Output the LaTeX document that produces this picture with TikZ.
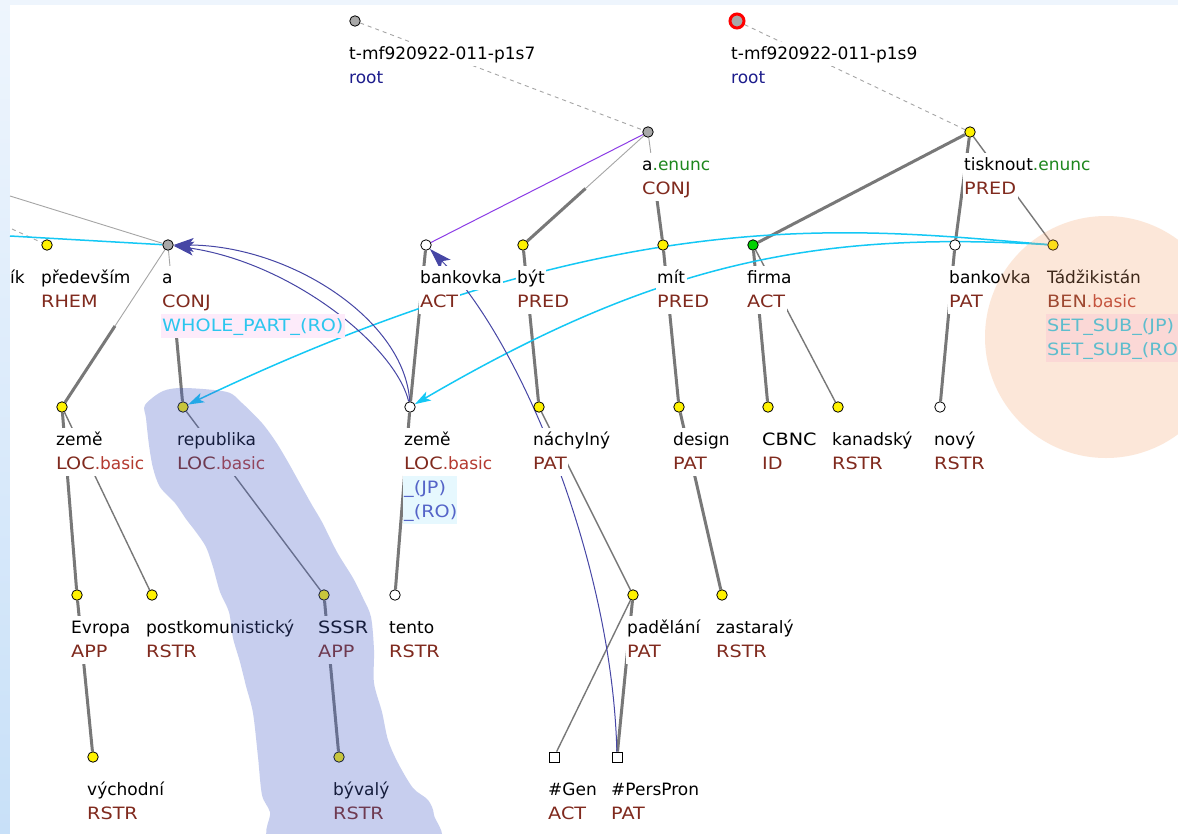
\documentclass[tikz,border=0pt]{standalone}
\usepackage{fontspec}
\setmainfont{DejaVu Sans}
\newfontfamily\capf[FakeStretch=1.13]{DejaVu Sans}
\usetikzlibrary{calc,arrows.meta}
\pgfdeclarelayer{bg}
\pgfdeclarelayer{fg}
\pgfsetlayers{bg,main,fg}
\definecolor{fun}{RGB}{128,42,30}
\definecolor{basc}{RGB}{180,58,48}
\definecolor{encc}{RGB}{30,135,30}
\definecolor{rootc}{RGB}{28,28,140}
\definecolor{cyanT}{RGB}{44,198,238}
\definecolor{cyanL}{RGB}{20,200,245}
\definecolor{navyL}{RGB}{70,70,165}
\definecolor{purpL}{RGB}{140,60,230}
\definecolor{edgeG}{RGB}{120,120,120}
\definecolor{edgeT}{RGB}{165,165,165}
\definecolor{pinkbg}{RGB}{253,235,250}
\definecolor{cyanbg}{RGB}{230,248,254}
\definecolor{jpT}{RGB}{85,100,200}
\definecolor{nodeGray}{RGB}{168,168,168}
\definecolor{nodeGreen}{RGB}{0,210,0}
\definecolor{bluereg}{RGB}{70,95,200}
\definecolor{peach}{RGB}{247,163,107}
\newcommand\lblsize{\fontsize{17pt}{20pt}\selectfont}
\newcommand\fnc[1]{{\capf\color{fun}#1}}
\newcommand\basx{\textcolor{basc}{.basic}}
\newcommand\enc{\textcolor{encc}{.enunc}}
\newcommand\tlab[3]{%
  \node[lbl] (#1-a) at ([shift={(-7.5,38)}]#1.center) {#2};
  \node[lbl] (#1-b) at ([shift={(-7.5,62)}]#1.center) {#3};}
\newcommand\splitedge[2]{%
  \draw[thn] (#1) -- ($(#1)!0.5!(#2)$);
  \draw[thk] ($(#1)!0.5!(#2)$) -- (#2);}
\tikzset{
  nd/.style={circle, draw=black, line width=0.8pt, minimum size=10.5pt, inner sep=0pt},
  yel/.style={nd, fill=yellow},
  wht/.style={nd, fill=white},
  gry/.style={nd, fill=nodeGray},
  grn/.style={nd, fill=nodeGreen},
  sq/.style={rectangle, draw=black, line width=0.8pt, minimum size=10pt, inner sep=0pt, fill=white},
  lbl/.style={anchor=base west, fill=white, inner xsep=1.5pt, inner ysep=0pt,
              text height=17pt, text depth=7pt, font=\lblsize},
  thk/.style={draw=edgeG, line width=3pt},
  med/.style={draw=edgeG, line width=1.4pt},
  thn/.style={draw=edgeT, line width=0.9pt},
  rootln/.style={draw=edgeT, line width=0.9pt, dash pattern=on 4pt off 4pt},
  purp/.style={draw=purpL, line width=1pt},
  cyanarr/.style={draw=cyanL, line width=1.5pt, -{Stealth[length=16pt,width=10pt,inset=4pt]}},
  navyarr/.style={draw=navyL, line width=1pt, -{Stealth[length=20pt,width=14pt,inset=5pt]}},
}
\begin{document}
\begin{tikzpicture}[x=1pt,y=-1pt]
\useasboundingbox (0,0) rectangle (1178,833);
% ---------- nodes ----------
\node[gry] (root1) at (355,21) {};
\node[circle, draw=red, line width=3pt, fill=nodeGray, minimum size=14pt, inner sep=0pt] (root2) at (737,21) {};
\node[gry] (aenunc) at (648,132) {};
\node[yel] (tisk) at (970,132) {};
\node[yel] (prede) at (47,245) {};
\node[gry] (aconj) at (168,245) {};
\node[wht] (bank1) at (426,245) {};
\node[yel] (byt) at (523,245) {};
\node[yel] (mit) at (663,245) {};
\node[grn] (firma) at (753,245) {};
\node[wht] (bank2) at (955,245) {};
\node[yel] (tadz) at (1053,245) {};
\node[yel] (zeme1) at (62,407) {};
\node[yel] (repub) at (183,407) {};
\node[wht] (zeme2) at (410,407) {};
\node[yel] (nachyl) at (539,407) {};
\node[yel] (design) at (679,407) {};
\node[yel] (cbnc) at (768,407) {};
\node[yel] (kanad) at (838,407) {};
\node[wht] (novy) at (940,407) {};
\node[yel] (evropa) at (77,595) {};
\node[yel] (postk) at (152,595) {};
\node[yel] (sssr) at (324,595) {};
\node[wht] (tento) at (395,595) {};
\node[yel] (padel) at (633,595) {};
\node[yel] (zastar) at (722,595) {};
\node[yel] (vychod) at (93,757) {};
\node[yel] (byvaly) at (339,757) {};
\node[sq] (gen) at (554,757) {};
\node[sq] (perspr) at (617,757) {};
\coordinate (offA) at (10,196);
\coordinate (offB) at (10,236);
\coordinate (offC) at (12,229);
% ---------- labels ----------
\tlab{root1}{t-mf920922-011-p1s7}{\textcolor{rootc}{root}}
\tlab{root2}{t-mf920922-011-p1s9}{\textcolor{rootc}{root}}
\tlab{aenunc}{a\enc}{\fnc{CONJ}}
\tlab{tisk}{tisknout\enc}{\fnc{PRED}}
\node[lbl, inner xsep=0.5pt] (ikfrag) at (9.5,283) {ík};
\tlab{prede}{především}{\fnc{RHEM}}
\tlab{aconj}{a}{\fnc{CONJ}}
\node[lbl, fill=pinkbg, text=cyanT] (aconj-c) at ([shift={(-7.5,86)}]aconj.center) {\capf WHOLE\_PART\_(RO)};
\tlab{bank1}{bankovka}{\fnc{ACT}}
\tlab{byt}{být}{\fnc{PRED}}
\tlab{mit}{mít}{\fnc{PRED}}
\tlab{firma}{firma}{\fnc{ACT}}
\tlab{bank2}{bankovka}{\fnc{PAT}}
\tlab{tadz}{Tádžikistán}{\fnc{BEN}\basx}
\node[lbl, fill=pinkbg, text=cyanT, text width=150pt] (tadz-c) at ([shift={(-7.5,86)}]tadz.center) {\capf SET\_SUB\_(JP)};
\node[lbl, fill=pinkbg, text=cyanT, text width=150pt] (tadz-d) at ([shift={(-7.5,110)}]tadz.center) {\capf SET\_SUB\_(RO)};
\tlab{zeme1}{země}{\fnc{LOC}\basx}
\tlab{repub}{republika}{\fnc{LOC}\basx}
\tlab{zeme2}{země}{\fnc{LOC}\basx}
\node[lbl, fill=cyanbg, text=jpT, text width=51pt] (zeme2-c) at ([shift={(-7.5,86)}]zeme2.center) {\capf \_(JP)};
\node[lbl, fill=cyanbg, text=jpT, text width=51pt] (zeme2-d) at ([shift={(-7.5,110)}]zeme2.center) {\capf \_(RO)};
\tlab{nachyl}{náchylný}{\fnc{PAT}}
\tlab{design}{design}{\fnc{PAT}}
\tlab{cbnc}{{\capf CBNC}}{\fnc{ID}}
\tlab{kanad}{kanadský}{\fnc{RSTR}}
\tlab{novy}{nový}{\fnc{RSTR}}
\tlab{evropa}{Evropa}{\fnc{APP}}
\tlab{postk}{postkomunistický}{\fnc{RSTR}}
\tlab{sssr}{{\capf SSSR}}{\fnc{APP}}
\tlab{tento}{tento}{\fnc{RSTR}}
\tlab{padel}{padělání}{\fnc{PAT}}
\tlab{zastar}{zastaralý}{\fnc{RSTR}}
\tlab{vychod}{východní}{\fnc{RSTR}}
\tlab{byvaly}{bývalý}{\fnc{RSTR}}
\tlab{gen}{\#Gen}{\fnc{ACT}}
\tlab{perspr}{\#PersPron}{\fnc{PAT}}
% ---------- background and edges ----------
\begin{pgfonlayer}{bg}
\shade[top color={rgb,255:red,238;green,245;blue,253}, bottom color={rgb,255:red,200;green,224;blue,248}] (0,0) rectangle (1178,833);
\fill[white] (10,5) rectangle (1190,845);
\draw[rootln] (root1) -- (aenunc);
\draw[rootln] (root2) -- (tisk);
\draw[rootln] (offC) -- (prede);
\draw[thn] (offA) -- (aconj);
\draw[purp] (aenunc) -- (bank1);
\splitedge{aenunc}{byt}
\splitedge{aenunc}{mit}
\draw[thk] (tisk) -- (firma);
\draw[thk] (tisk) -- (bank2);
\draw[med] (tisk) -- (tadz);
\splitedge{aconj}{zeme1}
\splitedge{aconj}{repub}
\draw[thk] (bank1) -- (zeme2);
\draw[thk] (byt) -- (nachyl);
\draw[thk] (mit) -- (design);
\draw[thk] (firma) -- (cbnc);
\draw[med] (firma) -- (kanad);
\draw[thk] (bank2) -- (novy);
\draw[thk] (zeme1) -- (evropa);
\draw[med] (zeme1) -- (postk);
\draw[med] (repub) -- (sssr);
\draw[thk] (zeme2) -- (tento);
\draw[med] (nachyl) -- (padel);
\draw[thk] (design) -- (zastar);
\draw[thk] (evropa) -- (vychod);
\draw[thk] (sssr) -- (byvaly);
\draw[med] (padel) -- (gen);
\draw[thk] (padel) -- (perspr);
% coreference / bridging arrows
\draw[draw=cyanL, line width=1.5pt] (offB) -- (aconj);
\draw[cyanarr] (tadz) .. controls (857,229) and (624,197) .. (repub);
\draw[cyanarr] (tadz) .. controls (808,230) and (650,267) .. (zeme2);
\draw[navyarr] (zeme2) .. controls (405,320) and (290,245) .. (aconj);
\draw[navyarr] (zeme2) .. controls (395,345) and (290,262) .. (aconj);
\draw[draw=navyL, line width=1pt, -{Stealth[length=22pt,width=14pt,inset=5pt]}] (perspr) .. controls (612,560) and (520,340) .. (bank1);
\end{pgfonlayer}
% ---------- highlight overlays ----------
\begin{pgfonlayer}{fg}
\fill[bluereg, fill opacity=0.3] plot[smooth cycle, tension=0.5] coordinates {
 (145,405) (163,391) (185,388) (227,392) (242,403) (262,423) (276,442) (288,462)
 (298,480) (312,505) (322,522) (337,552) (353,578) (363,598) (371,617) (374,650)
 (374,683) (382,712) (388,740) (398,763) (413,788) (428,800) (434,815) (432,845)
 (278,845) (270,812) (262,795) (258,757) (253,713) (246,686) (240,662) (233,638)
 (229,612) (220,592) (213,567) (206,547) (196,532) (186,519) (175,503) (160,487)
 (153,468) (149,445) (146,418)};
\fill[peach, fill opacity=0.25] (1106,337) circle[radius=121];
\end{pgfonlayer}
\end{tikzpicture}
\end{document}
